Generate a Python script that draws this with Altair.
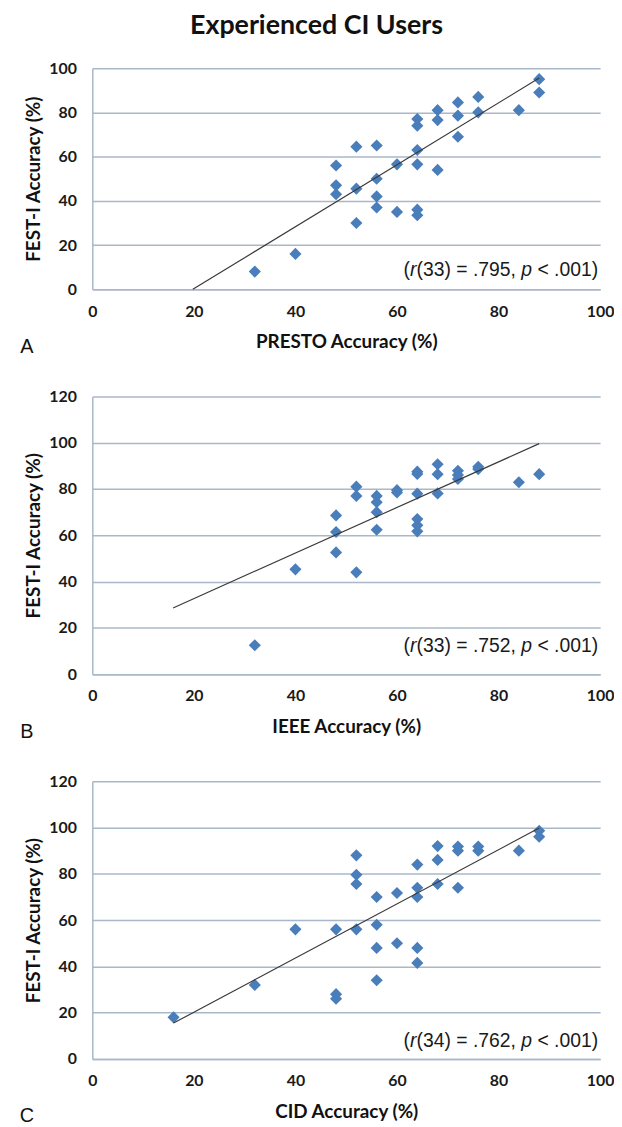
import altair as alt
import pandas as pd

TITLE = "Experienced CI Users"
Y_TITLE = "FEST-I Accuracy (%)"
X_TITLES = ["PRESTO Accuracy (%)", "IEEE Accuracy (%)", "CID Accuracy (%)"]
LETTERS = ["A", "B", "C"]
X_TICKS = [0, 20, 40, 60, 80, 100]

# Panel A: PRESTO vs FEST-I
a_x = [32, 40, 48, 48, 48, 52, 52, 52, 56, 56, 56, 56, 60, 60, 64, 64, 64, 64, 64, 64,
       68, 68, 68, 72, 72, 72, 76, 76, 84, 88, 88]
a_y = [8, 16, 56, 47, 43, 64.5, 45.5, 30, 65, 50, 42, 37, 56.5, 35, 77, 74, 63, 56.5, 36, 33.5,
       81, 76.5, 54, 84.5, 78.5, 69, 87, 80, 81, 95, 89]
a_line_x = [19.8, 88]
a_line_y = [0, 95.5]
a_stat = ["33", ".795"]

# Panel B: IEEE vs FEST-I
b_x = [32, 40, 48, 48, 48, 52, 52, 52, 56, 56, 56, 56, 60, 60, 64, 64, 64, 64, 64, 64,
       68, 68, 68, 72, 72, 72, 76, 76, 84, 88]
b_y = [12.5, 45.3, 68.6, 61.4, 52.6, 44, 81, 77, 77, 74.3, 70, 62.4, 79.5, 78.5, 87.5, 86.5, 78, 67, 64.3, 61.7,
       90.7, 86.4, 78.1, 87.9, 86, 84.3, 89.6, 88.6, 82.9, 86.4]
b_line_x = [15.9, 88]
b_line_y = [28.6, 99.6]
b_stat = ["33", ".752"]

# Panel C: CID vs FEST-I
c_x = [16, 32, 40, 48, 48, 48, 52, 52, 52, 52, 56, 56, 56, 56, 60, 60, 64, 64, 64, 64, 64,
       68, 68, 68, 72, 72, 72, 76, 76, 84, 88, 88]
c_y = [18, 32, 56, 56, 28, 26, 88, 79.6, 75.6, 56, 70, 58, 48, 34, 71.7, 50, 84, 74, 70, 48, 41.5,
       92, 86, 75.6, 91.8, 90, 74, 91.8, 90, 90, 98.6, 96]
c_line_x = [16, 88]
c_line_y = [15.5, 99.8]
c_stat = ["34", ".762"]

BLUE = "#4a7ebb"
GRID = "#a9b8c8"
FONT = "Lato"
ANN_FONT = "Liberation Sans"
W = 512
ONE = pd.DataFrame({"k": [0]})


def text_layer(txt, x, y, size, weight="normal", style="normal", align="center",
               font=FONT, baseline="middle", color="#111111"):
    return alt.Chart(ONE).mark_text(
        text=txt, font=font, fontSize=size, fontWeight=weight, fontStyle=style,
        align=align, baseline=baseline, color=color
    ).encode(x=alt.value(x), y=alt.value(y))


def annotation(df_n, r_val, ypx):
    fs = 19.5
    em = fs
    # Arial-metric widths
    w_s5 = (0.584 + 0.278 + 0.278 + 3 * 0.556 + 0.333) * em
    w_sp = 0.278 * em
    w_p = 0.556 * em
    w_s3 = (0.333 + 2 * 0.556 + 0.333 + 0.278 + 0.584 + 0.278 + 0.278 + 3 * 0.556 + 0.278) * em
    w_r = 0.333 * em
    xe = W - 2
    e4 = xe - w_s5 - w_sp
    e3 = e4 - w_p - w_sp
    e2 = e3 - w_s3
    e1 = e2 - w_r
    parts = [
        ("< .001)", xe, "normal"),
        ("p", e4, "italic"),
        ("(" + df_n + ") = " + r_val + ",", e3, "normal"),
        ("r", e2, "italic"),
        ("(", e1, "normal"),
    ]
    return [text_layer(t, x, ypx, fs, style=s, align="right", font=ANN_FONT, color="#1a1a1a")
            for t, x, s in parts]


def panel(xs, ys, lx, ly, xtitle, ymax, h, letter, stat, ann_y, title=False):
    pts = pd.DataFrame({"x": xs, "y": ys})
    ln = pd.DataFrame({"x": lx, "y": ly})
    xscale = alt.Scale(domain=[0, 100], nice=False)
    yscale = alt.Scale(domain=[0, ymax], nice=False)
    xaxis = alt.Axis(values=X_TICKS, title=xtitle, grid=False, ticks=False,
                     domainColor=GRID, domainWidth=1.5,
                     labelFont=FONT, labelFontWeight="bold", labelFontSize=16,
                     labelColor="#1a1a1a", labelPadding=14, labelFlush=False,
                     titleFont=FONT, titleFontWeight="bold", titleFontSize=19,
                     titleColor="#111111", titlePadding=14)
    yaxis = alt.Axis(values=list(range(0, ymax + 1, 20)), title=Y_TITLE, grid=True,
                     gridColor=GRID, gridWidth=1.5, ticks=False,
                     domainColor=GRID, domainWidth=1.5,
                     labelFont=FONT, labelFontWeight="bold", labelFontSize=16,
                     labelColor="#1a1a1a", labelPadding=16,
                     titleFont=FONT, titleFontWeight="bold", titleFontSize=19,
                     titleColor="#111111", titlePadding=5)
    points = alt.Chart(pts).mark_point(
        shape="diamond", filled=True, size=150, color=BLUE, opacity=1
    ).encode(x=alt.X("x:Q", scale=xscale, axis=xaxis),
             y=alt.Y("y:Q", scale=yscale, axis=yaxis))
    line = alt.Chart(ln).mark_line(color="#3a3a3a", strokeWidth=1.2).encode(
        x=alt.X("x:Q", scale=xscale, axis=xaxis),
        y=alt.Y("y:Q", scale=yscale, axis=yaxis))
    layers = [points, line]
    ypx = h * (1 - ann_y / ymax)
    layers += annotation(stat[0], stat[1], ypx)
    layers.append(text_layer(letter, -66, h + 58, 20, font="Liberation Sans", color="#111111"))
    if title:
        layers.append(text_layer(TITLE, 226, -42, 27, weight="bold", color="#111111"))
    return alt.layer(*layers).properties(width=W, height=h)


pa = panel(a_x, a_y, a_line_x, a_line_y, X_TITLES[0], 100, 223, LETTERS[0], a_stat, 8.5, title=True)
pb = panel(b_x, b_y, b_line_x, b_line_y, X_TITLES[1], 120, 280, LETTERS[1], b_stat, 12.1)
pc = panel(c_x, c_y, c_line_x, c_line_y, X_TITLES[2], 120, 280, LETTERS[2], c_stat, 7.8)

chart = alt.vconcat(pa, pb, pc, spacing=108, bounds="flush").properties(
    padding={"left": 11, "top": 0, "right": 0, "bottom": 0},
    background="white"
).configure_view(stroke=None)

chart.save("out.html", embed_options={"renderer": "svg", "actions": False})
